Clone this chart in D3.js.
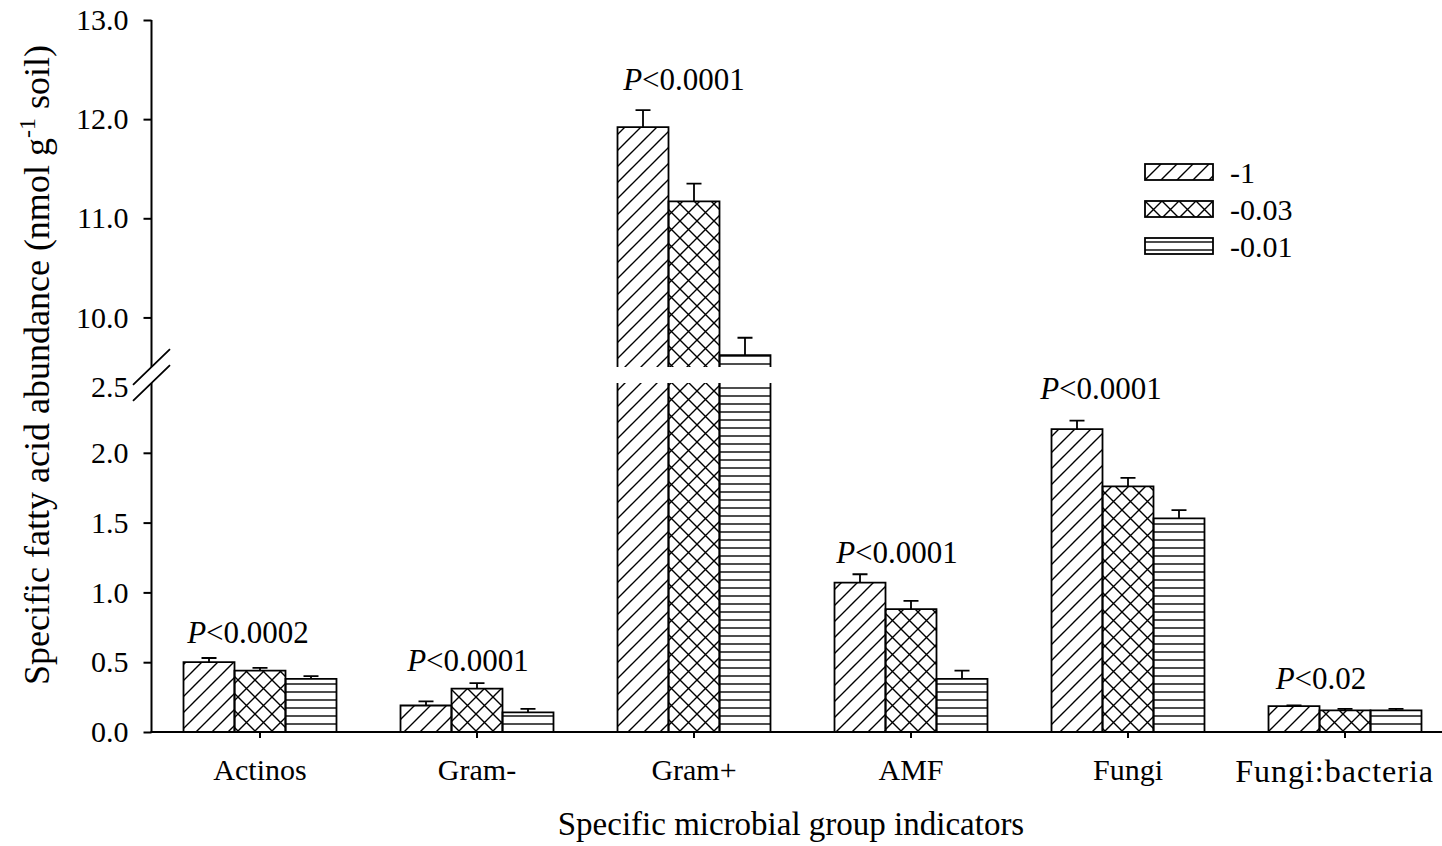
<!DOCTYPE html>
<html>
<head>
<meta charset="utf-8">
<script src="https://cdn.jsdelivr.net/npm/d3@7"></script>
<style>
  html, body { margin: 0; padding: 0; background: #fff; }
  svg { display: block; font-family: "Liberation Serif", "Times New Roman", serif; }
</style>
</head>
<body>
<svg id="chart" width="1442" height="846"></svg>
<script>
// Microbial group indicators on the x axis
const categories = ["Actinos", "Gram-", "Gram+", "AMF", "Fungi", "Fungi:bacteria"];
// Treatment series (legend entries)
const seriesNames = ["-1", "-0.03", "-0.01"];
// Mean abundance per series, one value per category
const meanMinus1    = [0.50, 0.19, 11.92, 1.07, 2.17, 0.185];
const meanMinus003  = [0.44, 0.31, 11.17, 0.88, 1.76, 0.155];
const meanMinus001  = [0.38, 0.14, 9.62, 0.38, 1.53, 0.155];
// Standard errors (upper whisker only)
const errMinus1     = [0.03, 0.03, 0.17, 0.06, 0.06, 0.005];
const errMinus003   = [0.02, 0.04, 0.18, 0.06, 0.06, 0.01];
const errMinus001   = [0.02, 0.025, 0.175, 0.06, 0.06, 0.01];
// Significance notes per category
const pValues = ["<0.0002", "<0.0001", "<0.0001", "<0.0001", "<0.0001", "<0.02"];
// Tick values of the two axis segments
const upperTicks = [10, 11, 12, 13];
const lowerTicks = [0, 0.5, 1, 1.5, 2, 2.5];

const means = [meanMinus1, meanMinus003, meanMinus001];
const errs = [errMinus1, errMinus003, errMinus001];

// ---- layout ----
const W = 1442, H = 846;
const xLeft = 151.5, xRight = 1453.5;
const yTop = 20, yBreakHi = 367, yBreakLo = 383, yBase = 732;
const breakAt = 2.5;
// small per-note nudges [dx, gap above the tallest whisker]
const noteNudge = [[-12, 15], [-9, 12], [-10, 20], [-14, 11], [-27, 22], [-24, 16]];

const svg = d3.select("#chart");
svg.append("rect").attr("width", W).attr("height", H).attr("fill", "#fff");

// ---- hatch patterns ----
const defs = svg.append("defs");
const hatchW = 1.4;
const pDiag = defs.append("pattern").attr("id", "hatch-diag")
  .attr("patternUnits", "userSpaceOnUse").attr("width", 16).attr("height", 16);
pDiag.append("path").attr("d", "M-4,4 L4,-4 M0,16 L16,0 M12,20 L20,12")
  .attr("stroke", "#000").attr("stroke-width", hatchW).attr("fill", "none");

const pCross = defs.append("pattern").attr("id", "hatch-cross")
  .attr("patternUnits", "userSpaceOnUse").attr("width", 17).attr("height", 17);
pCross.append("path").attr("d", "M-4,4 L4,-4 M0,17 L17,0 M13,21 L21,13 M-4,13 L4,21 M0,0 L17,17 M13,-4 L21,4")
  .attr("stroke", "#000").attr("stroke-width", hatchW).attr("fill", "none");

const pHoriz = defs.append("pattern").attr("id", "hatch-horiz")
  .attr("patternUnits", "userSpaceOnUse").attr("width", 16).attr("height", 8);
pHoriz.append("path").attr("d", "M-1,4 L17,4")
  .attr("stroke", "#000").attr("stroke-width", hatchW).attr("fill", "none");

const fills = ["url(#hatch-diag)", "url(#hatch-cross)", "url(#hatch-horiz)"];

// ---- scales ----
const x0 = d3.scaleBand().domain(categories).range([xLeft, xRight])
  .paddingInner(0.295).paddingOuter(0.1475);
const x1 = d3.scaleBand().domain(seriesNames).range([0, x0.bandwidth()]);
const yUpper = d3.scaleLinear().domain([9.5, 13]).range([yBreakHi, yTop]);
const yLower = d3.scaleLinear().domain([0, breakAt]).range([yBase, yBreakLo]);
const yPos = v => v > breakAt ? yUpper(v) : yLower(v);

// ---- bars ----
const barData = [];
seriesNames.forEach((s, si) => {
  categories.forEach((c, ci) => {
    barData.push({ s, si, c, ci, v: means[si][ci], e: errs[si][ci] });
  });
});

const gBars = svg.append("g");
const barStroke = 1.8;
barData.forEach(d => {
  const x = x0(d.c) + x1(d.s), w = x1.bandwidth();
  if (d.v <= breakAt) {
    const top = yLower(d.v);
    gBars.append("rect").attr("x", x).attr("y", top).attr("width", w).attr("height", yBase - top)
      .attr("fill", fills[d.si]);
    gBars.append("path").attr("d", `M${x},${yBase} V${top} H${x + w} V${yBase}`)
      .attr("fill", "none").attr("stroke", "#000").attr("stroke-width", barStroke);
  } else {
    // lower segment fills up to the break
    gBars.append("rect").attr("x", x).attr("y", yBreakLo).attr("width", w).attr("height", yBase - yBreakLo)
      .attr("fill", fills[d.si]);
    gBars.append("path").attr("d", `M${x},${yBase} V${yBreakLo} M${x + w},${yBreakLo} V${yBase}`)
      .attr("fill", "none").attr("stroke", "#000").attr("stroke-width", barStroke);
    // upper segment from the break to the value
    const top = yUpper(d.v);
    gBars.append("rect").attr("x", x).attr("y", top).attr("width", w).attr("height", yBreakHi - top)
      .attr("fill", fills[d.si]);
    gBars.append("path").attr("d", `M${x},${yBreakHi} V${top} H${x + w} V${yBreakHi}`)
      .attr("fill", "none").attr("stroke", "#000").attr("stroke-width", barStroke);
  }
  // upper error whisker with cap
  const cx = x + w / 2, y0 = yPos(d.v), y1 = yPos(d.v + d.e);
  gBars.append("path").attr("d", `M${cx},${y0} V${y1} M${cx - 7.5},${y1} H${cx + 7.5}`)
    .attr("fill", "none").attr("stroke", "#000").attr("stroke-width", barStroke);
});

// ---- axes ----
const axisStroke = 2;
const serif = "Liberation Serif, Times New Roman, serif";
const gyU = svg.append("g").attr("transform", `translate(${xLeft},0)`)
  .call(d3.axisLeft(yUpper).tickValues(upperTicks).tickFormat(d3.format(".1f")).tickSize(8).tickPadding(15));
const gyL = svg.append("g").attr("transform", `translate(${xLeft},0)`)
  .call(d3.axisLeft(yLower).tickValues(lowerTicks).tickFormat(d3.format(".1f")).tickSize(8).tickPadding(15));
[gyU, gyL].forEach(g => {
  g.select(".domain").remove();
  g.selectAll(".tick line").attr("stroke", "#000").attr("stroke-width", axisStroke);
  g.selectAll(".tick text").attr("fill", "#000").attr("font-size", 30).attr("font-family", serif);
});
// the 2.5 label sits at the break, without a tick mark
gyL.selectAll(".tick").filter(d => d === breakAt).select("line").remove();
gyL.selectAll(".tick").filter(d => d === breakAt).select("text").attr("dy", "0.45em");

svg.append("path").attr("d", `M${xLeft},${yTop} V${yBreakHi} M${xLeft},${yBreakLo} V${yBase}`)
  .attr("stroke", "#000").attr("stroke-width", axisStroke).attr("fill", "none");

// break marks
const bx = 18.5, by = 17.8;
svg.append("path")
  .attr("d", `M${xLeft - bx},${yBreakHi + by} L${xLeft + bx},${yBreakHi - by} M${xLeft - bx},${yBreakLo + by} L${xLeft + bx},${yBreakLo - by}`)
  .attr("stroke", "#000").attr("stroke-width", 1.8).attr("fill", "none");

const gx = svg.append("g").attr("transform", `translate(0,${yBase})`)
  .call(d3.axisBottom(x0).tickSize(6).tickPadding(21));
gx.select(".domain").remove();
gx.selectAll(".tick line").attr("stroke", "#000").attr("stroke-width", axisStroke);
gx.selectAll(".tick text").attr("fill", "#000").attr("font-size", 30).attr("font-family", serif);
// the last label is kept inside the page's right edge
const lastCat = categories[categories.length - 1];
const lastCenter = x0(lastCat) + x0.bandwidth() / 2;
gx.selectAll(".tick").filter(d => d === lastCat).select("text")
  .attr("text-anchor", "end").attr("x", W - 8 - lastCenter)
  .attr("font-size", 32).attr("letter-spacing", 1);
svg.append("line").attr("x1", xLeft - 1).attr("x2", xRight).attr("y1", yBase).attr("y2", yBase)
  .attr("stroke", "#000").attr("stroke-width", axisStroke);

// ---- significance notes ----
categories.forEach((c, ci) => {
  const tallest = d3.max(seriesNames, (s, si) => means[si][ci] + errs[si][ci]);
  const [dx, gap] = noteNudge[ci];
  const t = svg.append("text")
    .attr("x", x0(c) + x0.bandwidth() / 2 + dx)
    .attr("y", yPos(tallest) - gap)
    .attr("text-anchor", "middle").attr("font-size", 31).attr("fill", "#000");
  t.append("tspan").attr("font-style", "italic").text("P");
  t.append("tspan").text(pValues[ci]);
});

// ---- legend ----
const legend = svg.append("g").attr("transform", "translate(1145,164)");
seriesNames.forEach((s, si) => {
  const g = legend.append("g").attr("transform", `translate(0,${si * 37})`);
  g.append("rect").attr("width", 68).attr("height", 16).attr("fill", fills[si])
    .attr("stroke", "#000").attr("stroke-width", barStroke);
  g.append("text").attr("x", 85).attr("y", 8).attr("dy", "0.36em")
    .attr("font-size", 30).attr("fill", "#000").text(s);
});

// ---- axis titles ----
svg.append("text")
  .attr("x", 791).attr("y", 835)
  .attr("text-anchor", "middle").attr("font-size", 33).attr("fill", "#000")
  .text("Specific microbial group indicators");

const yt = svg.append("text")
  .attr("transform", "translate(49,365) rotate(-90)")
  .attr("text-anchor", "middle").attr("font-size", 36).attr("fill", "#000");
yt.append("tspan").text("Specific fatty acid abundance (nmol g");
yt.append("tspan").attr("font-size", 24).attr("dy", "-14").text("-1");
yt.append("tspan").attr("dy", "14").text(" soil)");
</script>
</body>
</html>
